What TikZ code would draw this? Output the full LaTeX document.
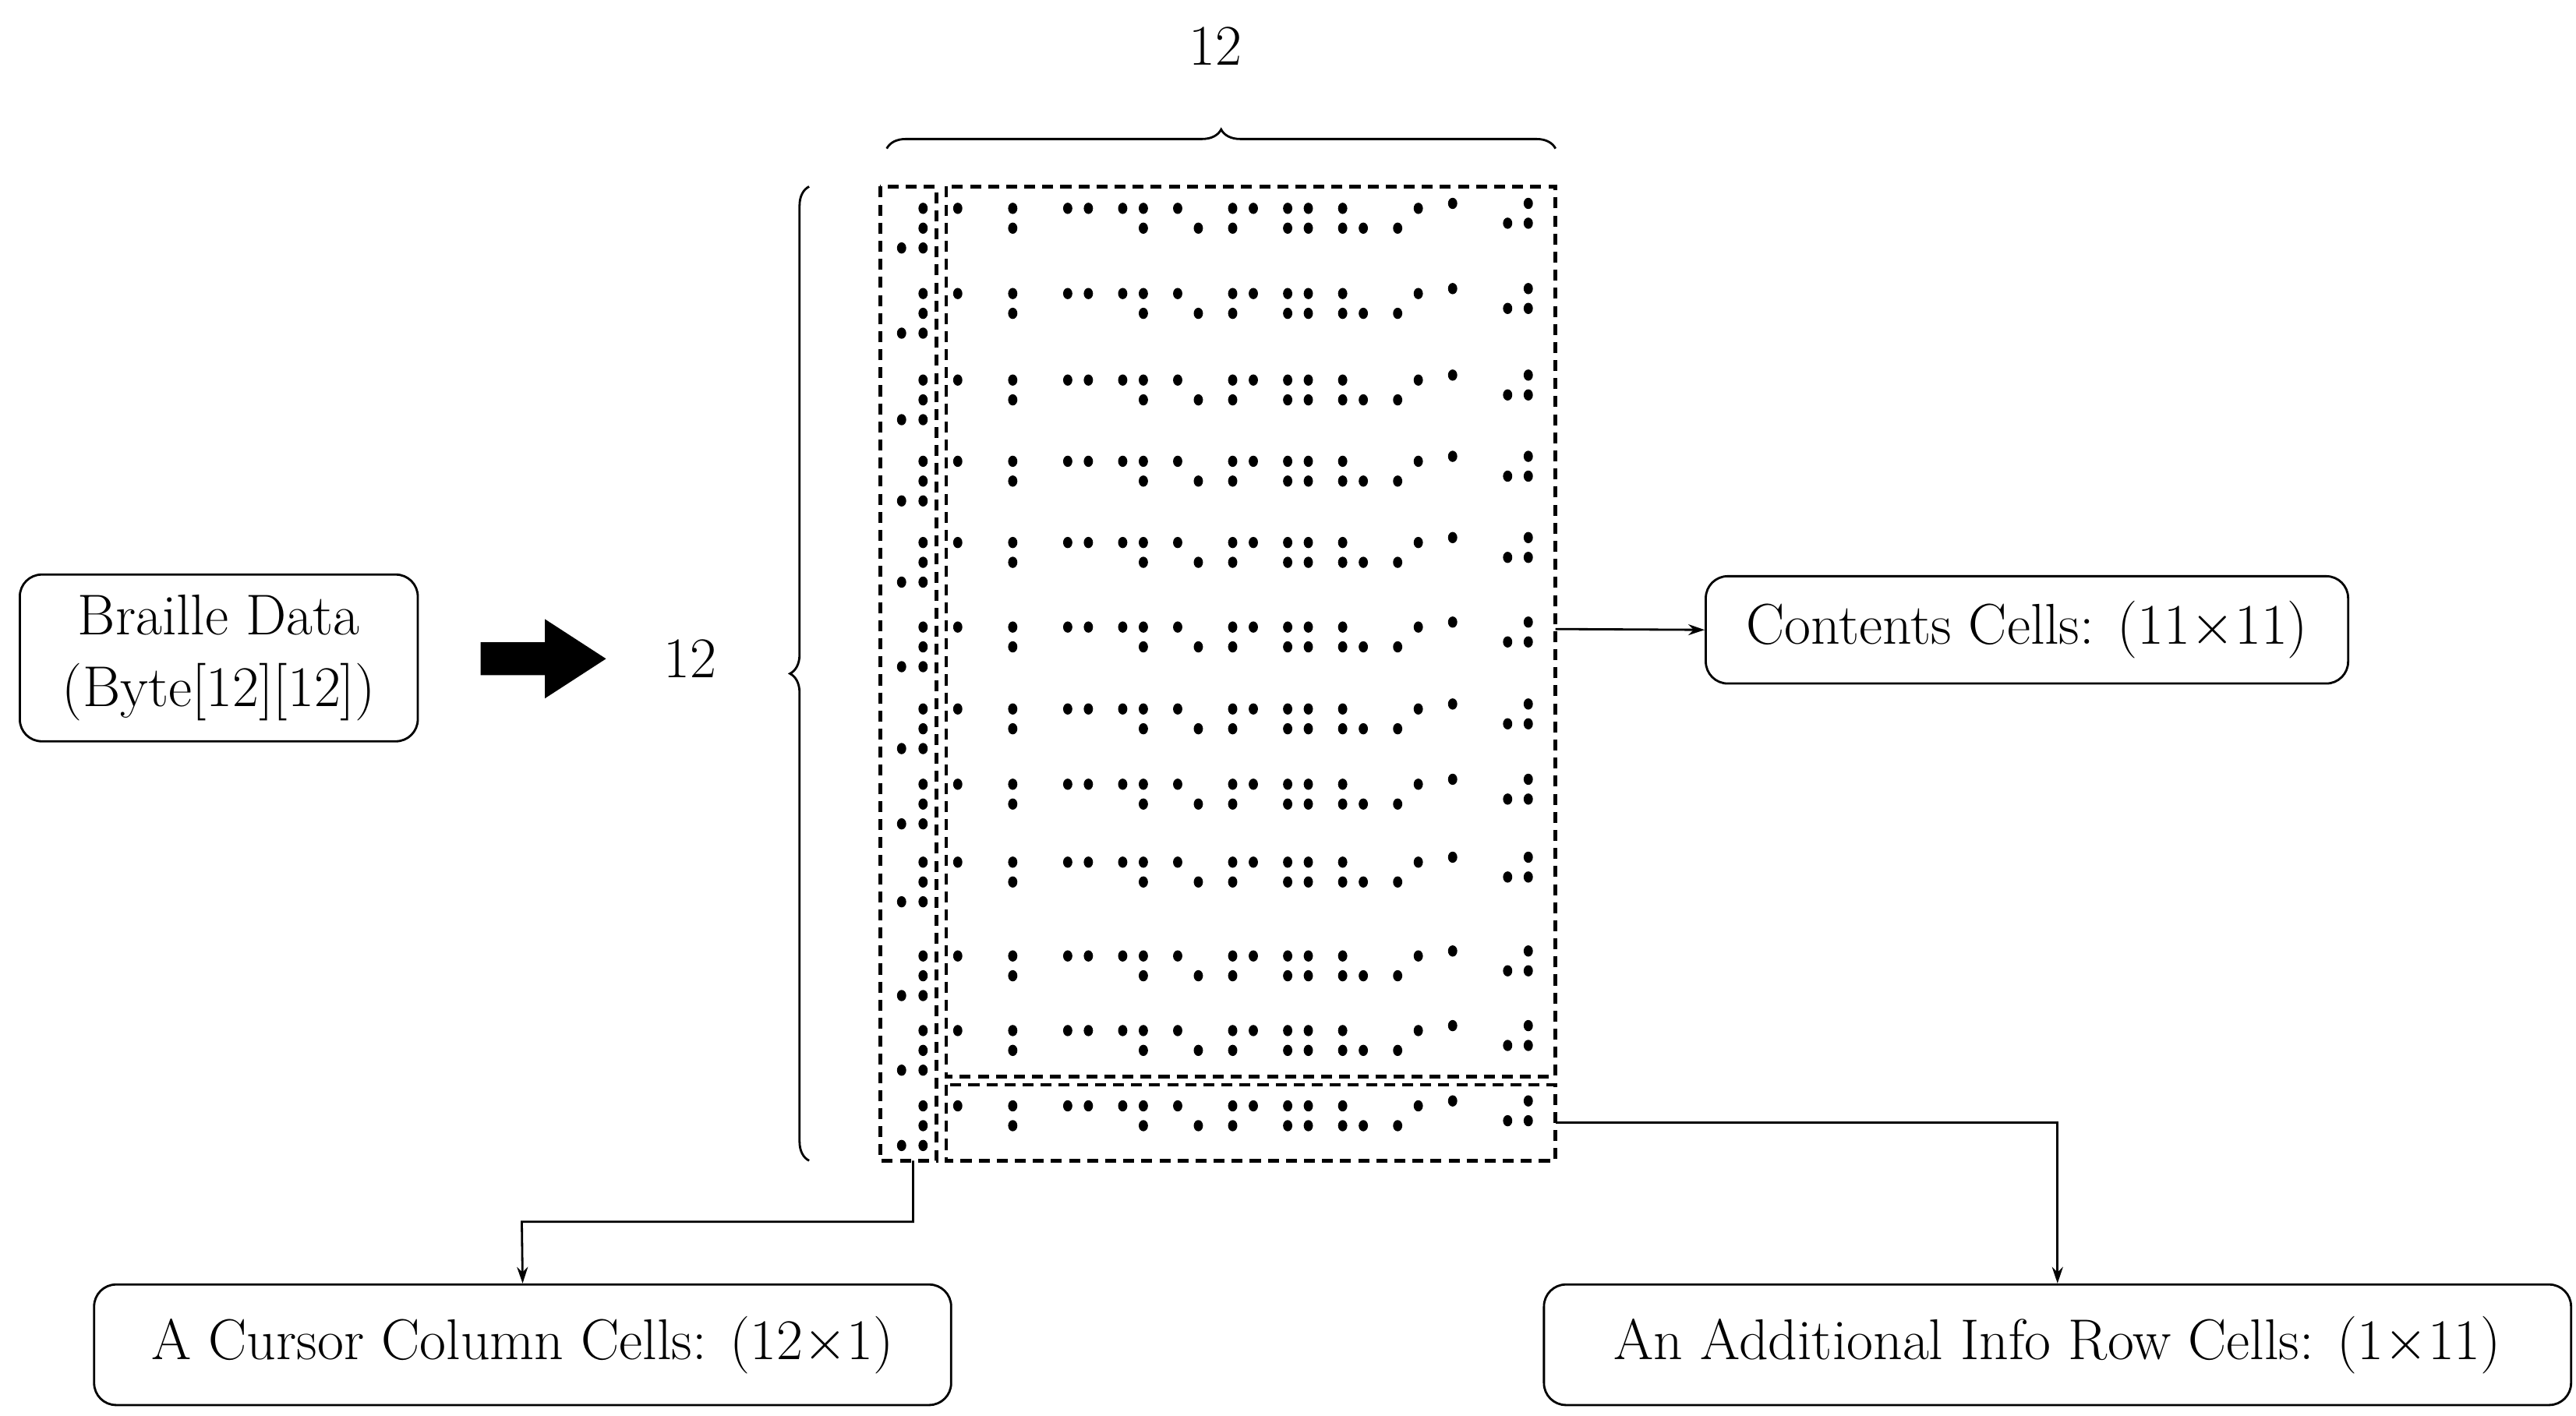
\documentclass[tikz,border=0pt]{standalone}
\usetikzlibrary{decorations.pathreplacing, positioning, arrows.meta}

\tikzset{
    label box/.style={draw, rounded corners=8pt, line width=0.8pt, inner sep=5pt, font=\fontsize{21}{26}\selectfont, align=center},
    cell frame/.style={dashed, line width=1.3pt, dash pattern=on 4pt off 2.6pt},
    brl dot/.style={fill=black},
    link/.style={line width=0.8pt, -{Stealth[length=6pt, width=4pt]}}
}

\begin{document}
\begin{tikzpicture}[x=0.02119cm, y=-0.02119cm]
    \useasboundingbox (0,0) rectangle (1560,857.6);

    % dashed frames
    \draw[cell frame] (533,113) rectangle (567,703);
    \draw[cell frame] (573,113) rectangle (942,652);
    \draw[cell frame] (573,657) rectangle (942,703);
    \coordinate (cursor-foot) at (553,703);
    \coordinate (contents-side) at (942,381);
    \coordinate (info-side) at (942,680);

    % braille rows
    \foreach \ry in {126.2,177.8,230.2,279.4,328.6,379.8,429.4,475,522.2,579,624.2,669.8} {
        \foreach \c/\r in {2/1,2/2,1/3,2/3}
            \fill[brl dot] ({546+13*(\c-1)},{\ry+12*(\r-1)}) ellipse (2.8 and 3.4);
        \foreach \k/\c/\r/\s in {1/1/1/0, 2/1/1/0,2/1/2/0, 3/1/1/0,3/2/1/0,
                4/1/1/0,4/2/1/0,4/2/2/0, 5/1/1/0,5/2/2/0, 6/1/1/0,6/2/1/0,6/1/2/0,
                7/1/1/0,7/2/1/0,7/1/2/0,7/2/2/0, 8/1/1/0,8/1/2/0,8/2/2/0,
                9/2/1/0,9/1/2/0, 10/1/1/3, 11/2/1/3,11/1/2/3,11/2/2/3}
            \fill[brl dot] ({580+33.3*(\k-1)+12.5*(\c-1)},{\ry+12*(\r-1)-\s}) ellipse (2.8 and 3.4);
    }

    % braces
    \draw[line width=0.8pt, decorate, decoration={brace, amplitude=7pt}] (537,90) -- (942,90);
    \node[font=\fontsize{21}{26}\selectfont] (cols) at (736,28) {12};
    \draw[line width=0.8pt, decorate, decoration={brace, amplitude=7pt}] (490,703) -- (490,113);
    \node[font=\fontsize{21}{26}\selectfont] (rows) at (418,399) {12};

    % input
    \node[label box, minimum width=241*0.02119cm, minimum height=101*0.02119cm] (data) at (132.5,398.5) {Braille Data\\(Byte[12][12])};
    \fill (291,389) -- (330,389) -- (330,375) -- (367,399) -- (330,423) -- (330,409) -- (291,409) -- cycle;

    % output labels
    \node[label box, minimum width=389*0.02119cm, minimum height=65*0.02119cm] (contents) at (1227.5,381.5) {Contents Cells: (11$\times$11)};
    \node[label box, minimum width=519*0.02119cm, minimum height=73*0.02119cm] (cursor) at (316.5,814.5) {A Cursor Column Cells: (12$\times$1)};
    \node[label box, minimum width=622*0.02119cm, minimum height=73*0.02119cm] (info) at (1246,814.5) {An Additional Info Row Cells: (1$\times$11)};

    \draw[link] (contents-side) -- (contents.west);
    \draw[link] (info-side) -| (info.north);
    \draw[link] (cursor-foot) |- (316,740) -- (cursor.north);
\end{tikzpicture}
\end{document}
